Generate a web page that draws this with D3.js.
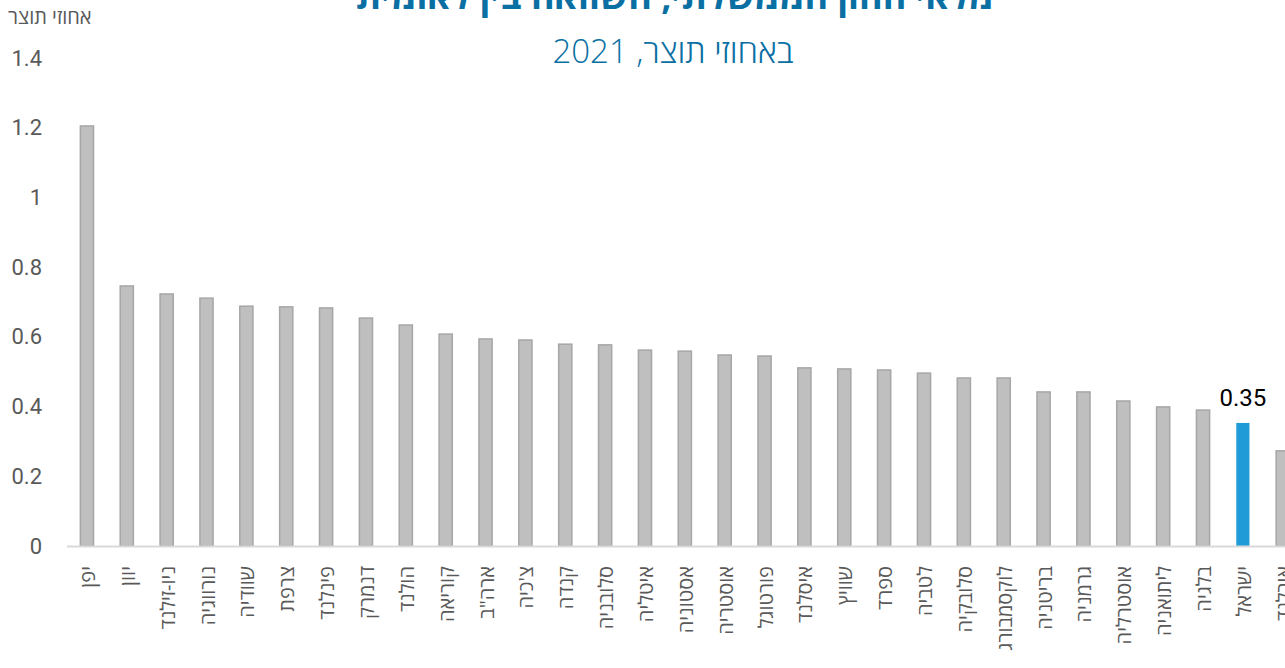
<!DOCTYPE html>
<html>
<head>
<meta charset="utf-8">
<script src="https://cdn.jsdelivr.net/npm/d3@7"></script>
<style>
  body { margin: 0; background: #fff; overflow: hidden; }
  svg { font-family: "Open Sans", "DejaVu Sans", sans-serif; }
</style>
</head>
<body>
<div class="chart"></div>
<script>
    var countries = ["יפן", "יוון", "ניו-זילנד", "נורווגיה", "שוודיה", "צרפת", "פינלנד", "דנמרק", "הולנד", "קוריאה",
        "ארה\"ב", "צ'כיה", "קנדה", "סלובניה", "איטליה", "אסטוניה", "אוסטריה", "פורטוגל", "איסלנד", "שוויץ",
        "ספרד", "לטביה", "סלובקיה", "לוקסמבורג", "בריטניה", "גרמניה", "אוסטרליה", "ליתואניה", "בלגיה", "ישראל", "אירלנד"];
    var values = [1.205, 0.746, 0.723, 0.711, 0.688, 0.686, 0.683, 0.654, 0.634, 0.608,
        0.594, 0.591, 0.579, 0.577, 0.562, 0.559, 0.548, 0.545, 0.511, 0.508,
        0.505, 0.496, 0.482, 0.482, 0.442, 0.442, 0.416, 0.399, 0.390, 0.353, 0.273];
    var yTicks = [0, 0.2, 0.4, 0.6, 0.8, 1, 1.2, 1.4];
    var highlight = "ישראל";

    var svgWidth = 1285;
    var svgHeight = 668;

    var svg = d3.select(".chart")
        .append("svg")
        .attr("width", svgWidth)
        .attr("height", svgHeight);

    var data = countries.map((c, i) => ({ name: c, value: values[i] }));

    // plot runs past the right edge, like the original crop
    var xBand = d3.scaleBand()
        .domain(countries)
        .range([67, 67 + 39.86 * countries.length])
        .paddingInner(0.67)
        .paddingOuter(0.335);

    var yLinear = d3.scaleLinear()
        .domain([0, 1.4])
        .range([546, 58]);

    // titles (top one is clipped by the frame, as in the original)
    svg.append("text")
        .attr("x", 675)
        .attr("y", 9)
        .attr("text-anchor", "middle")
        .attr("font-size", 36)
        .attr("font-weight", "bold")
        .attr("fill", "#0a6fa3")
        .attr("font-family", "'Liberation Sans Narrow', 'Open Sans', sans-serif")
        .text("מלאי ההון הממשלתי, השוואה בין לאומית");

    svg.append("text")
        .attr("x", 673)
        .attr("y", 63)
        .attr("text-anchor", "middle")
        .attr("font-size", 33)
        .attr("font-weight", 300)
        .attr("fill", "#0a6fa3")
        .text("באחוזי תוצר, 2021");

    svg.append("text")
        .attr("x", 8)
        .attr("y", 24)
        .attr("font-size", 20)
        .attr("fill", "#595959")
        .text("אחוזי תוצר");

    // y axis labels only
    var yAxis = d3.axisLeft(yLinear)
        .tickValues(yTicks)
        .tickSize(0)
        .tickPadding(0)
        .tickFormat(d3.format("~g"));

    var yG = svg.append("g")
        .attr("transform", "translate(42,0)")
        .call(yAxis);
    yG.select(".domain").remove();
    yG.selectAll("text")
        .attr("font-size", 22)
        .attr("fill", "#595959")
        .attr("font-family", "Roboto, 'Open Sans', sans-serif");

    // bars
    svg.selectAll("rect.bar")
        .data(data)
        .enter()
        .append("rect")
        .attr("class", "bar")
        .attr("x", d => xBand(d.name))
        .attr("y", d => yLinear(d.value))
        .attr("width", xBand.bandwidth())
        .attr("height", d => yLinear(0) - yLinear(d.value))
        .attr("fill", d => d.name === highlight ? "#1f9bd7" : "#bfbfbf")
        .attr("stroke", d => d.name === highlight ? "none" : "#a6a6a6")
        .attr("stroke-width", 1.5);

    // x axis line
    svg.append("line")
        .attr("x1", 67)
        .attr("x2", svgWidth)
        .attr("y1", yLinear(0) + 0.5)
        .attr("y2", yLinear(0) + 0.5)
        .attr("stroke", "#d9d9d9")
        .attr("stroke-width", 2);

    // category labels, rotated
    svg.selectAll("text.cat")
        .data(data)
        .enter()
        .append("text")
        .attr("class", "cat")
        .attr("transform", d => `translate(${xBand(d.name) + xBand.bandwidth() / 2 + 8}, 566) rotate(-90)`)
        .attr("text-anchor", "end")
        .attr("font-size", 20)
        .attr("fill", "#595959")
        .text(d => d.name);

    // value label for Israel
    var isr = data.filter(d => d.name === highlight);
    svg.selectAll("text.val")
        .data(isr)
        .enter()
        .append("text")
        .attr("class", "val")
        .attr("x", d => xBand(d.name) + xBand.bandwidth() / 2)
        .attr("y", d => yLinear(d.value) - 17)
        .attr("text-anchor", "middle")
        .attr("font-size", 24)
        .attr("fill", "#000")
        .attr("font-family", "Roboto, 'Open Sans', sans-serif")
        .text(d => d3.format(".2f")(d.value));
</script>
</body>
</html>
